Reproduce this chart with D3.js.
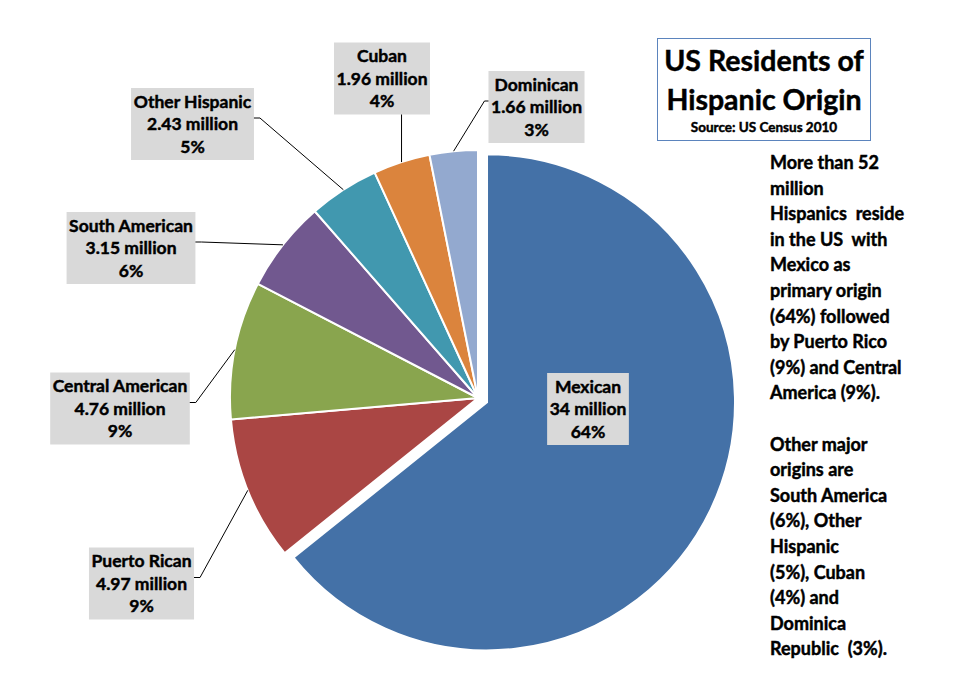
<!DOCTYPE html>
<html>
<head>
<meta charset="utf-8">
<script src="https://cdn.jsdelivr.net/npm/d3@7"></script>
<style>
  body { margin: 0; background: #fff; }
  svg { display: block; font-family: Lato, "Open Sans", sans-serif; font-weight: bold; }
  .heavy { stroke: #000; stroke-width: 0.45px; }
</style>
</head>
<body>
<svg width="960" height="692"></svg>
<script>
const categories = ["Mexican", "Puerto Rican", "Central American", "South American", "Other Hispanic", "Cuban", "Dominican"];
const millions = [34, 4.97, 4.76, 3.15, 2.43, 1.96, 1.66];
const colors = ["#4471a7", "#aa4644", "#89a54e", "#71588f", "#4198af", "#db843d", "#93a9cf"];

// where Excel's data labels were dragged to (box centres)
const labelCenters = [[588, 409], [141.5, 583.5], [120, 408.5], [131, 248], [192.5, 124], [382, 78.5], [536.5, 107]];

const titleLines = ["US Residents of", "Hispanic Origin"];
const sourceText = "Source: US Census 2010";
const noteLines = [
  "More than 52", "million", "Hispanics  reside", "in the US  with", "Mexico as",
  "primary origin", "(64%) followed", "by Puerto Rico", "(9%) and Central", "America (9%).",
  "", "Other major", "origins are", "South America", "(6%), Other", "Hispanic",
  "(5%), Cuban", "(4%) and", "Dominica", "Republic  (3%)."
];

(function () {
  "use strict";
  const svg = d3.select("svg");
  const data = categories.map((c, i) => ({ name: c, value: millions[i], color: colors[i] }));
  const total = d3.sum(millions);

  const cx = 478, cy = 398, r = 248, explode = 10;

  const pie = d3.pie().sort(null).value((d) => d.value);
  const arcs = pie(data);
  const arc = d3.arc().innerRadius(0).outerRadius(r);
  const rim = d3.arc().innerRadius(r).outerRadius(r);

  const g = svg.append("g").attr("transform", `translate(${cx},${cy})`);

  g.selectAll("path")
    .data(arcs)
    .join("path")
    .attr("d", arc)
    .attr("fill", (d) => d.data.color)
    .attr("stroke", "#fff")
    .attr("stroke-width", 2)
    .attr("transform", (d, i) => {
      if (i !== 0) return null;
      const a = (d.startAngle + d.endAngle) / 2;
      return `translate(${Math.sin(a) * explode},${-Math.cos(a) * explode})`;
    });

  // labels
  const lineH = 22.5;
  arcs.forEach((d, i) => {
    const [lx, ly] = labelCenters[i];
    const lines = [d.data.name, `${d.data.value} million`, `${Math.round((d.data.value / total) * 100)}%`];
    const lg = svg.append("g");
    const box = lg.append("rect").attr("fill", "#d9d9d9");
    const txt = lg.append("text")
      .attr("class", "heavy")
      .attr("text-anchor", "middle")
      .attr("font-size", 17.5)
      .attr("fill", "#000");
    lines.forEach((t, k) => {
      txt.append("tspan").attr("x", lx).attr("y", ly + (k - 1) * lineH + 6).text(t);
    });
    const w = txt.node().getBBox().width + 5;
    const h = 72;
    box.attr("x", lx - w / 2).attr("y", ly - h / 2).attr("width", w).attr("height", h);

    if (i === 0) return;
    // leader line
    const [px, py] = rim.centroid(d).map((v, k) => v + (k ? cy : cx));
    let pts;
    if (py > ly + h / 2 && px > lx - w / 2 && px < lx + w / 2) {
      pts = [[px, ly + h / 2], [px, py]];
    } else if (px > lx) {
      const ex = lx + w / 2, ey = ly - 6;
      pts = [[ex, ey], [ex + 6, ey], [px, py]];
    } else {
      const ex = lx - w / 2, ey = ly - 6;
      pts = [[ex, ey], [ex - 4, ey], [px, py]];
    }
    svg.append("path")
      .attr("d", d3.line()(pts))
      .attr("fill", "none")
      .attr("stroke", "#000")
      .attr("stroke-width", 1);
  });

  // title box
  svg.append("rect")
    .attr("x", 657.5).attr("y", 38.5).attr("width", 213).attr("height", 102)
    .attr("fill", "#fff").attr("stroke", "#5b84bd").attr("stroke-width", 1);
  svg.append("g").selectAll("text")
    .data(titleLines)
    .join("text")
    .attr("class", "heavy")
    .attr("x", 764).attr("y", (d, i) => 71 + i * 39)
    .attr("text-anchor", "middle")
    .attr("font-size", 28.5)
    .text((d) => d);
  svg.append("text")
    .attr("class", "heavy")
    .attr("x", 764).attr("y", 132)
    .attr("text-anchor", "middle")
    .attr("font-size", 13.5)
    .text(sourceText);

  // note on the right
  svg.append("g").selectAll("text")
    .data(noteLines)
    .join("text")
    .attr("class", "heavy")
    .attr("x", 770)
    .attr("y", (d, i) => 169 + i * 25.6)
    .attr("font-size", 18)
    .attr("xml:space", "preserve")
    .style("white-space", "pre")
    .text((d) => d);
})();
</script>
</body>
</html>
